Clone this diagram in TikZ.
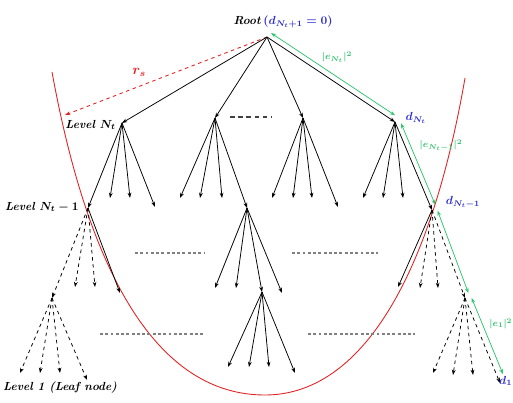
\documentclass[tikz,border=0pt]{standalone}
\usepackage{amsmath, amssymb}
\usepackage{xcolor}
\usepackage{tikz}
\usetikzlibrary{calc, arrows.meta, positioning}

\definecolor{radiusred}{RGB}{225,35,35}
\definecolor{errgreen}{RGB}{50,195,110}
\definecolor{dblue}{RGB}{45,45,205}

\begin{document}
\begin{tikzpicture}[x=0.03cm, y=-0.03cm, >={Stealth[length=4.5pt,width=3.2pt]},
    branch/.style={->, line width=0.65pt},
    pruned/.style={->, line width=0.65pt, dashed},
    errarrow/.style={<->, errgreen, line width=0.65pt},
    gapdots/.style={gray, line width=1.8pt, dash pattern=on 2.5pt off 2pt},
    lvl/.style={font=\bfseries\itshape\boldmath}]

    \useasboundingbox (0,0) rectangle (513,403);

    % =================================================================
    % 1. MAIN NODES OF THE SEARCH TREE
    % =================================================================
    \coordinate (Root) at (267,37);

    % Level N_t
    \coordinate (A1) at (122,123);
    \coordinate (A2) at (215,118);
    \coordinate (A3) at (303,118);
    \coordinate (A4) at (395,122);

    % Level N_t - 1 (expanded nodes)
    \coordinate (L) at (88,208);
    \coordinate (M) at (247,208);
    \coordinate (R) at (432,210);

    % Lower expanded nodes
    \coordinate (B) at (52,298);
    \coordinate (N) at (262,292);
    \coordinate (S) at (465,298);

    % Free ends of the branches
    \coordinate (a12) at (110,198);
    \coordinate (a13) at (130,198);
    \coordinate (a14) at (155,207);
    \coordinate (a21) at (180,198);
    \coordinate (a22) at (200,198);
    \coordinate (a23) at (222,198);
    \coordinate (a31) at (272,198);
    \coordinate (a32) at (293,198);
    \coordinate (a33) at (312,198);
    \coordinate (a34) at (338,207);
    \coordinate (a41) at (363,198);
    \coordinate (a42) at (383,198);
    \coordinate (a43) at (403,198);

    \coordinate (l2) at (75,287);
    \coordinate (l3) at (95,287);
    \coordinate (l4) at (120,293);
    \coordinate (b1) at (20,373);
    \coordinate (b2) at (40,373);
    \coordinate (b3) at (60,373);
    \coordinate (b4) at (87,380);

    \coordinate (m1) at (215,288);
    \coordinate (m2) at (236,288);
    \coordinate (m4) at (282,293);
    \coordinate (n1) at (228,367);
    \coordinate (n2) at (249,367);
    \coordinate (n3) at (269,367);
    \coordinate (n4) at (295,373);

    \coordinate (r1) at (398,287);
    \coordinate (r2) at (420,288);
    \coordinate (r3) at (438,288);
    \coordinate (s1) at (433,373);
    \coordinate (s2) at (453,375);
    \coordinate (s3) at (473,375);
    \coordinate (s4) at (500,383);

    % End of the sphere radius arrow
    \coordinate (RadEnd) at (65,115);

    % =================================================================
    % 2. SPHERE BOUNDARY (RED CURVE)
    % =================================================================
    \draw[radiusred, line width=0.75pt] (52,72) .. controls (90,280) and (160,395) .. (265,395)
        .. controls (360,395) and (430,280) .. (465,78);

    \draw[radiusred, dashed, ->, line width=0.75pt] (Root) -- (RadEnd);

    % =================================================================
    % 3. BRANCHES
    % =================================================================
    \draw[branch] (Root) -- (A1);
    \draw[branch] (Root) -- (A2);
    \draw[branch] (Root) -- (A3);
    \draw[branch] (Root) -- (A4);

    \draw[branch] (A1) -- (L);
    \draw[branch] (A1) -- (a12);
    \draw[branch] (A1) -- (a13);
    \draw[branch] (A1) -- (a14);

    \draw[branch] (A2) -- (a21);
    \draw[branch] (A2) -- (a22);
    \draw[branch] (A2) -- (a23);
    \draw[branch] (A2) -- (M);

    \draw[branch] (A3) -- (a31);
    \draw[branch] (A3) -- (a32);
    \draw[branch] (A3) -- (a33);
    \draw[branch] (A3) -- (a34);

    \draw[branch] (A4) -- (a41);
    \draw[branch] (A4) -- (a42);
    \draw[branch] (A4) -- (a43);
    \draw[branch] (A4) -- (R);

    % Pruned (dashed) and kept (solid) branches below level N_t - 1
    \draw[pruned] (L) -- (B);
    \draw[pruned] (L) -- (l2);
    \draw[pruned] (L) -- (l3);
    \draw[branch] (L) -- (l4);

    \draw[pruned] (B) -- (b1);
    \draw[pruned] (B) -- (b2);
    \draw[pruned] (B) -- (b3);
    \draw[pruned] (B) -- (b4);

    \draw[branch] (M) -- (m1);
    \draw[branch] (M) -- (m2);
    \draw[branch] (M) -- (N);
    \draw[branch] (M) -- (m4);

    \draw[branch] (N) -- (n1);
    \draw[branch] (N) -- (n2);
    \draw[branch] (N) -- (n3);
    \draw[branch] (N) -- (n4);

    \draw[branch] (R) -- (r1);
    \draw[pruned] (R) -- (r2);
    \draw[pruned] (R) -- (r3);
    \draw[pruned] (R) -- (S);

    \draw[pruned] (S) -- (s1);
    \draw[pruned] (S) -- (s2);
    \draw[pruned] (S) -- (s3);
    \draw[pruned] (S) -- (s4);

    % Omitted parts of the tree
    \draw[darkgray, line width=1.1pt, dash pattern=on 4pt off 3pt] (230,117) -- (272,117);
    \draw[gapdots] (135,253) -- (205,253);
    \draw[gapdots] (292,253) -- (378,253);
    \draw[gapdots] (100,334) -- (205,334);
    \draw[gapdots] (308,334) -- (415,334);

    % =================================================================
    % 4. PARTIAL DISTANCES (GREEN)
    % =================================================================
    \draw[errarrow, shorten <=1pt, shorten >=3pt, transform canvas={shift={(0.09cm,0.14cm)}}] (Root) -- (A4);
    \draw[errarrow, shorten <=3pt, shorten >=3pt, transform canvas={shift={(0.14cm,0.06cm)}}] (A4) -- (R);
    \draw[errarrow, shorten <=2pt, shorten >=3pt, transform canvas={shift={(0.14cm,0.05cm)}}] (R) -- (S);
    \draw[errarrow, shorten <=2pt, shorten >=6pt, transform canvas={shift={(0.17cm,0.07cm)}}] (S) -- (s4);

    % =================================================================
    % 5. LABELS
    % =================================================================
    \node[lvl, anchor=base east, inner sep=1pt] (rootlbl) at (262,25) {Root};
    \node[lvl, anchor=base west, text=dblue, inner sep=1pt] (rootval) at (rootlbl.base east) {$(d_{N_t+1}=0)$};

    \node[lvl, anchor=east, inner sep=1pt] (lvlA) at (117,125) {Level $N_t$};
    \node[lvl, anchor=east, inner sep=1pt] (lvlB) at (80,207) {Level $N_t-1$};
    \node[lvl, inner sep=1pt] (lvlC) at (60,388) {Level 1 (Leaf node)};

    \node[text=radiusred, font=\large\boldmath] (rlbl) at (139,72) {$r_s$};

    \node[text=dblue, font=\boldmath] (dA) at (416,118) {$d_{N_t}$};
    \node[text=dblue, font=\boldmath] (dB) at (463,202) {$d_{N_t-1}$};
    \node[text=dblue, font=\boldmath, anchor=east, inner sep=0.5pt] (dC) at (513,381) {$d_1$};

    \node[text=errgreen, font=\footnotesize\boldmath] (eA) at (337,57) {$|e_{N_t}|^2$};
    \node[text=errgreen, font=\footnotesize\boldmath] (eB) at (441,145) {$|e_{N_t-1}|^2$};
    \node[text=errgreen, font=\footnotesize\boldmath, anchor=east, inner sep=0.5pt] (eC) at (513,324) {$|e_1|^2$};

\end{tikzpicture}
\end{document}
